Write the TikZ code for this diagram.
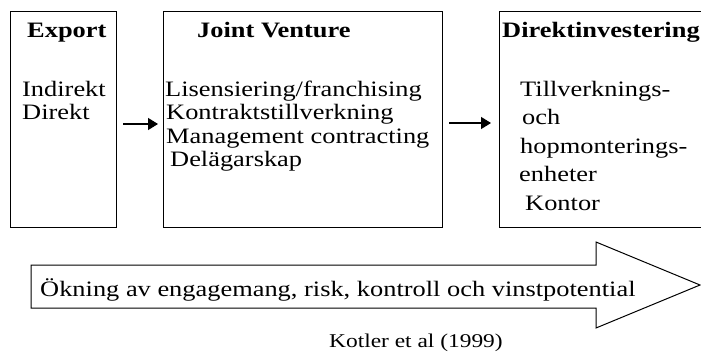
\documentclass[tikz,border=0pt]{standalone}
\usepackage{fontspec}
\setmainfont{Liberation Serif}[FakeStretch=1.2]
\usetikzlibrary{arrows.meta}
\begin{document}
\begin{tikzpicture}[x=1pt,y=-1pt,
  box/.style={draw,line width=1.3pt,inner sep=0pt,anchor=north west,minimum height=216pt},
  txt/.style={inner sep=0pt,anchor=base west,font=\fontsize{22}{22}\selectfont},
  ttl/.style={txt,font=\fontsize{22}{22}\selectfont\bfseries},
  arr/.style={line width=1.3pt,-{Triangle[length=10pt,width=12pt]}},
  big/.style={draw,line width=1pt,line join=miter}]
\useasboundingbox (0,0) rectangle (701,351);
\clip (0,0) rectangle (701,351);
% boxes
\node[box,minimum width=106pt] (b1) at (10,11) {};
\node[box,minimum width=279pt] (b2) at (163,11) {};
\node[box,minimum width=206pt] (b3) at (499,11) {};
% titles
\node[ttl] (h1) at (27,37) {Export};
\node[ttl] (h2) at (197,37) {Joint Venture};
\node[ttl] (h3) at (502,37) {Direktinvestering};
% box 1
\node[txt] (e1) at (22,96) {Indirekt};
\node[txt] (e2) at (22,119.5) {Direkt};
% box 2
\node[txt] (j1) at (165,96) {Lisensiering/franchising};
\node[txt] (j2) at (166,119.5) {Kontraktstillverkning};
\node[txt] (j3) at (166,143) {Management contracting};
\node[txt] (j4) at (170,166.5) {Delägarskap};
% box 3
\node[txt] (d1) at (520,96) {Tillverknings-};
\node[txt] (d2) at (522,124.5) {och};
\node[txt] (d3) at (520,153) {hopmonterings-};
\node[txt] (d4) at (519,181.5) {enheter};
\node[txt] (d5) at (525,210) {Kontor};
% connectors
\draw[arr,shorten <=6pt,shorten >=5pt] (b1.east |- 0,124) -- (b2.west |- 0,124);
\draw[arr,shorten <=6pt,shorten >=8pt] (b2.east |- 0,123) -- (b3.west |- 0,123);
% big arrow
\draw[big] (31,265) -- (596,265) -- (596,242) -- (700,285) -- (596,328) -- (596,308) -- (31,308) -- cycle;
\node[txt] (ok) at (40,296) {Ökning av engagemang, risk, kontroll och vinstpotential};
\node[txt,font=\fontsize{19.5}{19.5}\selectfont] (src) at (329,347) {Kotler et al (1999)};
\end{tikzpicture}
\end{document}
